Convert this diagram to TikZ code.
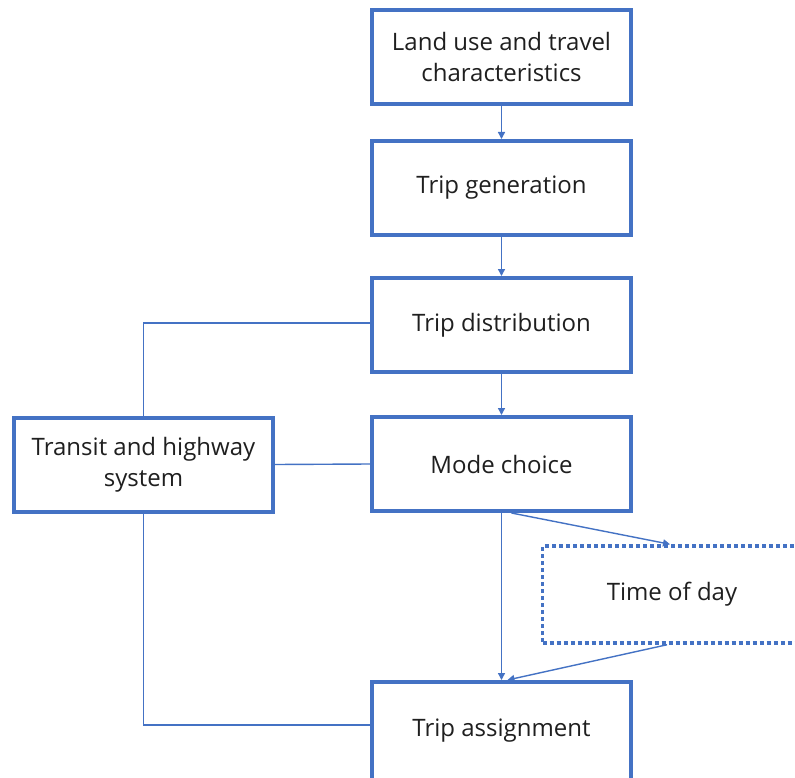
\documentclass[tikz,border=0pt]{standalone}
\usepackage{fontspec}
\setmainfont{Open Sans}
\usetikzlibrary{arrows.meta,calc}
\definecolor{flowblue}{HTML}{4472C4}
\tikzset{
  stagebox/.style={draw=flowblue, line width=4pt, minimum width=259pt, minimum height=94pt,
    align=center, font=\fontsize{24}{31}\selectfont, text=black!88, inner sep=2pt},
  optbox/.style={stagebox, line width=3.5pt, dash pattern=on 4pt off 3pt, minimum height=97pt},
  link/.style={draw=flowblue, line width=1.4pt},
  flow/.style={link, -{Triangle[length=7pt,width=7pt]}}
}
\begin{document}
\begin{tikzpicture}[x=1pt,y=-1pt]
\useasboundingbox[fill=white] (0,0) rectangle (795,778);
\node[stagebox] (land) at (501.5,57) {Land use and travel\\characteristics};
\node[stagebox] (gen) at (501.5,188) {Trip generation};
\node[stagebox] (dist) at (501.5,325) {Trip distribution};
\node[stagebox] (mode) at (501.5,464) {Mode choice};
\node[stagebox] (transit) at (143.5,464.5) {Transit and highway\\system};
\node[optbox] (tod) at (672,594.5) {Time of day};
\node[stagebox, minimum height=102pt, text depth=10pt] (assign) at (501.5,733) {Trip assignment};

\draw[flow] (land) -- (gen);
\draw[flow] (gen) -- (dist);
\draw[flow] (dist) -- (mode);
\draw[flow] (mode) -- (assign);
\draw[flow] ([xshift=10pt]mode.south) -- ([xshift=-2pt]tod.north);
\draw[flow] ([xshift=-5pt]tod.south) -- ([xshift=6pt]assign.north);
\draw[link] ([yshift=2pt]dist.west) -| (transit.north);
\draw[link] (transit.east) -- (mode.west);
\draw[link] (transit.south) |- ([yshift=8pt]assign.west);
\end{tikzpicture}
\end{document}
